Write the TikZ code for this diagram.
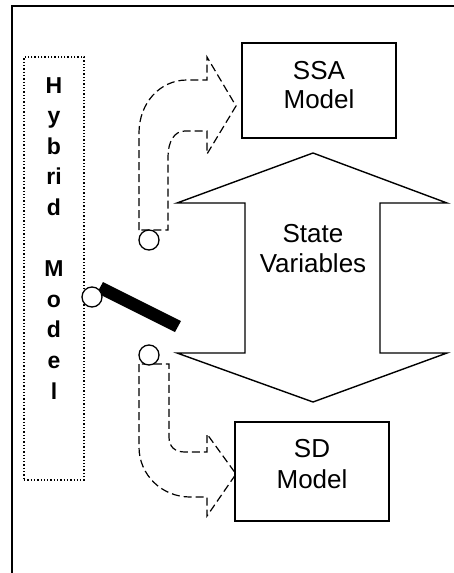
\documentclass[tikz,border=0pt]{standalone}
\usepackage{fontspec}
\setmainfont{Liberation Sans}
\begin{document}
\begin{tikzpicture}[x=1pt,y=-1pt,
  box/.style={draw,line width=1.6pt,rectangle,inner sep=0pt},
  lbl/.style={font=\fontsize{26}{30}\selectfont,anchor=base},
  hyb/.style={font=\bfseries\fontsize{23}{30}\selectfont,anchor=base},
  knob/.style={draw,circle,line width=1.3pt,fill=white,minimum size=20pt,inner sep=0pt},
  uturn/.style={draw,line width=1.2pt,dash pattern=on 8pt off 4pt,line join=miter},
  dblarrow/.style={draw,line width=1.4pt,line join=miter}]
\useasboundingbox (0,0) rectangle (454,573);
\clip (0,0) rectangle (454,573);
% outer frame
\draw[line width=2pt] (12,6) rectangle (456,576);
% hybrid model dotted box
\node[draw,dotted,line width=1.3pt,rectangle,minimum width=60pt,minimum height=423pt,inner sep=0pt] (hybrid) at (54,268.5) {};
\foreach \t [count=\i] in {H,y,b,ri,d,{},M,o,d,e,l}
  \node[hyb] (h\i) at (54,{93+30.6*(\i-1)}) {\t};
% SSA model
\node[box,minimum width=154pt,minimum height=95pt] (ssa) at (319,90.5) {};
\node[lbl] (ssa1) at (319,79) {SSA};
\node[lbl] (ssa2) at (319,108) {Model};
% SD model
\node[box,minimum width=154pt,minimum height=99pt] (sd) at (312,471.5) {};
\node[lbl] (sd1) at (312,457) {SD};
\node[lbl] (sd2) at (312,488) {Model};
% state variables double arrow
\path[dblarrow] (313,153) -- (447,203) -- (380,203) -- (380,353) -- (447,353)
  -- (313,402) -- (177,353) -- (245,353) -- (245,203) -- (177,203) -- cycle;
\node[lbl] (sv1) at (313,242) {State};
\node[lbl] (sv2) at (313,272) {Variables};
% upper u-turn arrow
\path[uturn] (139,230) -- (139,133) .. controls (139,103) and (160,80) .. (187,80)
  -- (207,80) -- (207,57) -- (236,106) -- (207,154) -- (207,131) -- (185,131)
  .. controls (174,131) and (168,142) .. (168,157) -- (168,230) -- cycle;
% lower u-turn arrow
\path[uturn] (139,364) -- (139,447) .. controls (139,475) and (162,497) .. (190,497)
  -- (207,497) -- (207,516) -- (236,474) -- (207,434) -- (207,452) -- (185,452)
  .. controls (175,452) and (169,447) .. (169,437) -- (169,364) -- cycle;
% switch
\fill (97,293) -- (103,282) -- (181,321) -- (175,332) -- cycle;
\node[knob] (c0) at (92,297) {};
\node[knob] (c1) at (149,240) {};
\node[knob] (c2) at (149,355) {};
\end{tikzpicture}
\end{document}
